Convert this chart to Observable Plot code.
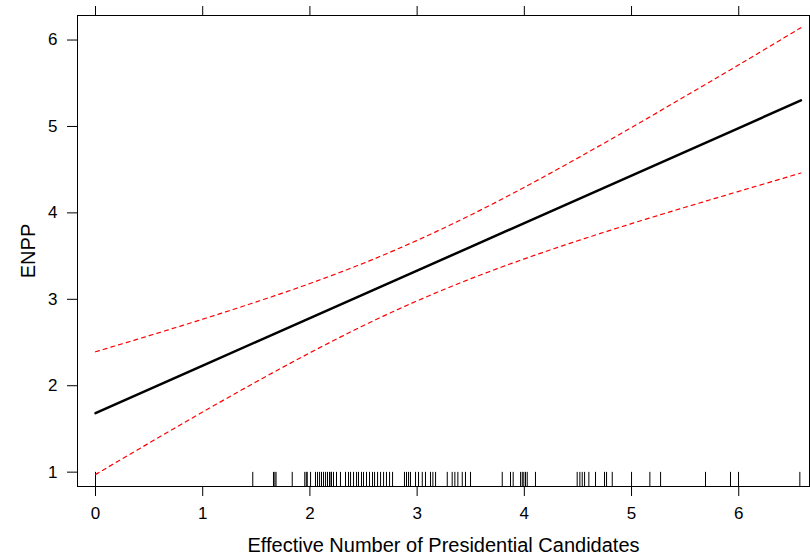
<!DOCTYPE html>
<html>
<head>
<meta charset="utf-8">
<script src="https://cdn.jsdelivr.net/npm/d3@7"></script>
<script src="https://cdn.jsdelivr.net/npm/@observablehq/plot@0.6"></script>
<style>
  html, body { margin: 0; padding: 0; background: #fff; }
</style>
</head>
<body>
<div id="chart"></div>
<script>
// Fitted effect of the effective number of presidential candidates on ENPP
const xValues = [0, 0.5, 1, 1.5, 2, 2.5, 3, 3.5, 4, 4.5, 5, 5.5, 6, 6.58];
const fitValues = [1.683, 1.958, 2.233, 2.508, 2.782, 3.057, 3.332, 3.607, 3.882, 4.157, 4.432, 4.707, 4.981, 5.302];
const upperValues = [2.393, 2.579, 2.770, 2.970, 3.183, 3.418, 3.682, 3.976, 4.296, 4.636, 4.988, 5.349, 5.713, 6.143];
const lowerValues = [0.973, 1.337, 1.696, 2.046, 2.381, 2.696, 2.982, 3.238, 3.468, 3.678, 3.876, 4.065, 4.249, 4.461];

// Rug: observed values of the predictor
const rugValues = [
  0, 1.467, 1.660, 1.673, 1.684, 1.835, 1.952, 1.966, 1.975, 2.006,
  2.052, 2.071, 2.090, 2.108, 2.127, 2.146, 2.164, 2.183, 2.197,
  2.201, 2.220, 2.248, 2.285, 2.332, 2.360, 2.379, 2.407, 2.435, 2.453,
  2.481, 2.500, 2.528, 2.556, 2.584, 2.603, 2.631, 2.659, 2.687, 2.714,
  2.743, 2.771, 2.882, 2.901, 2.920, 2.938, 2.985, 3.013,
  3.048, 3.078, 3.125, 3.147, 3.172, 3.281, 3.327, 3.352, 3.380, 3.421,
  3.451, 3.498, 3.794, 3.871,
  3.896, 3.965, 3.981, 3.995, 4.011, 4.027, 4.104, 4.493, 4.518, 4.540,
  4.562, 4.602, 4.664, 4.748, 4.767, 4.820, 5.000, 5.171, 5.271,
  5.690, 5.923, 5.998, 6.570
];

const xTicks = [0, 1, 2, 3, 4, 5, 6];
const yTicks = [1, 2, 3, 4, 5, 6];
const xDomain = [-0.168, 6.66];
const yDomain = [0.834, 6.284];
const xLabel = "Effective Number of Presidential Candidates";
const yLabel = "ENPP";

const curve = xValues.map((x, i) => ({x, fit: fitValues[i], upper: upperValues[i], lower: lowerValues[i]}));
const rugTop = yDomain[0] + 0.03 * (yDomain[1] - yDomain[0]);
const fmt = d => String(d);

const chart = Plot.plot({
  width: 810,
  height: 555,
  marginLeft: 77,
  marginRight: 1,
  marginTop: 15,
  marginBottom: 69,
  x: {domain: xDomain},
  y: {domain: yDomain},
  style: {fontFamily: "'Liberation Sans', Arial, Helvetica, sans-serif", fontSize: "17px", color: "black", background: "white"},
  marks: [
    Plot.axisX({anchor: "bottom", ticks: xTicks, tickFormat: fmt, tickSize: 10, tickPadding: 10, fontSize: 17, label: null}),
    Plot.axisX({anchor: "top", ticks: xTicks, tickSize: 10, tickFormat: () => "", label: null}),
    Plot.axisY({anchor: "left", ticks: yTicks, tickFormat: fmt, tickSize: 10, tickPadding: 10, fontSize: 17, label: null}),
    Plot.axisX({anchor: "bottom", ticks: [], tickSize: 0, label: xLabel, labelAnchor: "center", labelArrow: "none", labelOffset: 65, fontSize: 20}),
    Plot.axisY({anchor: "left", ticks: [], tickSize: 0, label: yLabel, labelAnchor: "center", labelArrow: "none", labelOffset: 57, fontSize: 20}),
    Plot.ruleX(rugValues, {x: d => d, y1: yDomain[0], y2: rugTop, stroke: "black", strokeWidth: 1}),
    Plot.line(curve, {x: "x", y: "upper", curve: "natural", stroke: "red", strokeWidth: 1.2, strokeDasharray: "4,4"}),
    Plot.line(curve, {x: "x", y: "lower", curve: "natural", stroke: "red", strokeWidth: 1.2, strokeDasharray: "4,4"}),
    Plot.line(curve, {x: "x", y: "fit", stroke: "black", strokeWidth: 2.5}),
    Plot.frame({stroke: "black", strokeWidth: 1})
  ]
});
document.getElementById("chart").appendChild(chart);
</script>
</body>
</html>
